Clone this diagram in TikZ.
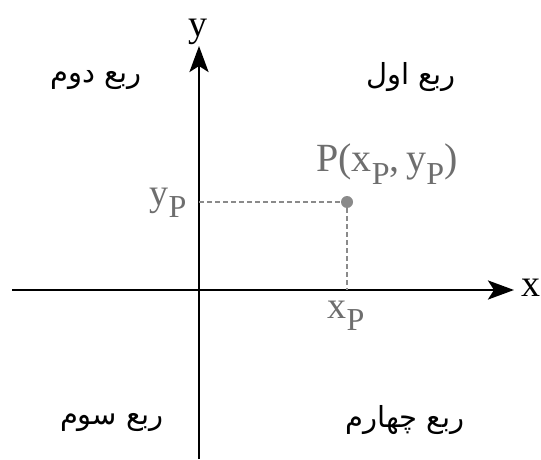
\documentclass[tikz,border=0pt]{standalone}
\usepackage{fontspec}
\usetikzlibrary{arrows.meta}
\setmainfont{Liberation Serif}
\TeXXeTstate=1
\newfontfamily\arabicfont[Script=Arabic]{DejaVu Sans}
\definecolor{lbl}{HTML}{6E6E6E}
\definecolor{dsh}{HTML}{8A8A8A}
\newcommand\myP{\raisebox{-0.33em}{\fontsize{32}{32}\selectfont P}}
\tikzset{
  axis/.style={line width=2.9pt, -{Stealth[length=26pt,width=19pt,inset=6pt]}},
  guide/.style={dsh, line width=1.8pt, dash pattern=on 4.5pt off 3.5pt},
  quad/.style={font=\fontsize{29}{32}\selectfont\arabicfont, inner sep=0pt},
  axlabel/.style={font=\fontsize{38}{40}\selectfont, inner sep=0pt},
  glabel/.style={text=lbl, font=\fontsize{38}{40}\selectfont, inner sep=0pt}
}
\begin{document}
\begin{tikzpicture}[x=1pt,y=1pt]
\useasboundingbox (0,0) rectangle (541,459);
\coordinate (xs) at (12,169);
\coordinate (xe) at (514,169);
\coordinate (ys) at (199,0);
\coordinate (ye) at (199,413);
\coordinate (O) at (199,257);
\coordinate (xf) at (347,169);
\draw[axis] (xs) -- (xe);
\draw[axis] (ys) -- (ye);
\node[axlabel, anchor=base] (xl) at (531,163) {x};
\node[axlabel, anchor=base] (yl) at (198,422) {y};
\node[circle, fill=dsh, inner sep=0pt, minimum size=12pt] (P) at (347,257) {};
\draw[guide] (O) -- (P);
\draw[guide] (P) -- (xf);
\node[glabel, anchor=base] (yp) at (168,254) {y\myP};
\node[glabel, anchor=base] (xp) at (346,141) {x\myP};
\node[glabel, font=\fontsize{40}{42}\selectfont, anchor=base] (pl) at (387,288) {P(x\myP,\,y\myP)};
\node[quad] (q2) at (96,379) {\beginR ربع دوم\endR};
\node[quad] (q1) at (411,382) {\beginR ربع اول\endR};
\node[quad] (q3) at (112,36) {\beginR ربع سوم\endR};
\node[quad] (q4) at (405,39) {\beginR ربع چهارم\endR};
\end{tikzpicture}
\end{document}
